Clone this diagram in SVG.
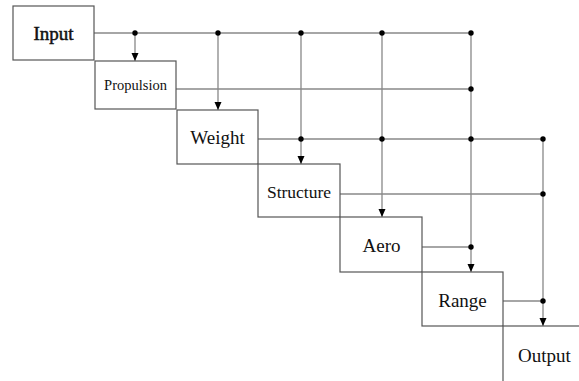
<svg xmlns="http://www.w3.org/2000/svg" width="579" height="381" viewBox="0 0 579 381">
<style>
.box{fill:#fff;stroke:#555;stroke-width:1.2}
.lbl{font-family:"Liberation Serif","Times New Roman",serif;font-size:19px;fill:#111;text-anchor:middle}
.ln{stroke:#888;stroke-width:1.3;fill:none}
.dot{fill:#000}
</style>
<defs>
<marker id="arr" markerWidth="8" markerHeight="8" refX="8" refY="4" orient="auto" markerUnits="userSpaceOnUse">
<path d="M0,0.5 L8,4 L0,7.5 z" fill="#000"/>
</marker>
</defs>
<rect width="579" height="381" fill="#fff"/>
<g id="connectors">
<path class="ln" d="M94,33 H471"/>
<path class="ln" d="M176,89 H471"/>
<path class="ln" d="M258,139 H543"/>
<path class="ln" d="M340,194 H543"/>
<path class="ln" d="M422,247 H471"/>
<path class="ln" d="M503,301 H543"/>
<path class="ln" d="M135,33 V61" marker-end="url(#arr)"/>
<path class="ln" d="M218,33 V110" marker-end="url(#arr)"/>
<path class="ln" d="M301,33 V164" marker-end="url(#arr)"/>
<path class="ln" d="M382,33 V217" marker-end="url(#arr)"/>
<path class="ln" d="M471,33 V272" marker-end="url(#arr)"/>
<path class="ln" d="M543,139 V326" marker-end="url(#arr)"/>
<circle class="dot" cx="135" cy="33" r="2.7"/>
<circle class="dot" cx="218" cy="33" r="2.7"/>
<circle class="dot" cx="301" cy="33" r="2.7"/>
<circle class="dot" cx="382" cy="33" r="2.7"/>
<circle class="dot" cx="471" cy="33" r="2.7"/>
<circle class="dot" cx="471" cy="89" r="2.7"/>
<circle class="dot" cx="301" cy="139" r="2.7"/>
<circle class="dot" cx="382" cy="139" r="2.7"/>
<circle class="dot" cx="471" cy="139" r="2.7"/>
<circle class="dot" cx="543" cy="139" r="2.7"/>
<circle class="dot" cx="543" cy="194" r="2.7"/>
<circle class="dot" cx="471" cy="247" r="2.7"/>
<circle class="dot" cx="543" cy="301" r="2.7"/>
</g>
<g id="input"><rect class="box" x="13" y="6" width="81" height="54"/><text class="lbl" x="53.5" y="40" style="stroke:#111;stroke-width:0.5">Input</text></g>
<g id="propulsion"><rect class="box" x="95" y="61" width="81" height="48"/><text class="lbl" x="135.5" y="90" style="font-size:14.5px">Propulsion</text></g>
<g id="weight"><rect class="box" x="177" y="110" width="81" height="54"/><text class="lbl" x="217.5" y="144">Weight</text></g>
<g id="structure"><rect class="box" x="258" y="164" width="82" height="53"/><text class="lbl" x="299" y="198" style="font-size:17.5px">Structure</text></g>
<g id="aero"><rect class="box" x="340" y="217" width="82" height="55"/><text class="lbl" x="381.5" y="252">Aero</text></g>
<g id="range"><rect class="box" x="422" y="272" width="81" height="54"/><text class="lbl" x="462.5" y="307">Range</text></g>
<g id="output"><rect class="box" x="503" y="326" width="100" height="80"/><text class="lbl" x="544.5" y="362">Output</text></g>
</svg>
